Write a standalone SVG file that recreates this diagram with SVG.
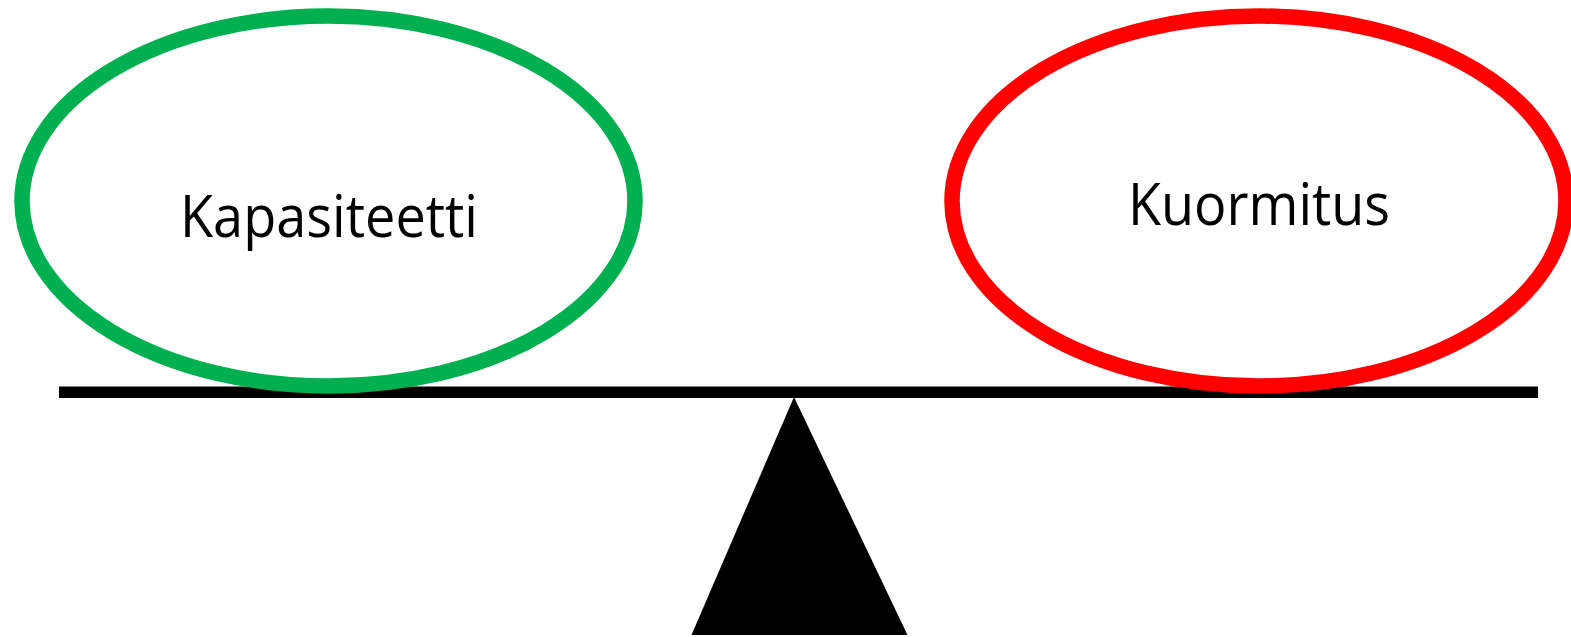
<svg xmlns="http://www.w3.org/2000/svg" width="1571" height="637" viewBox="0 0 1571 637">
<style>
.ell{fill:#fff;stroke-width:15.5}
.lbl{font-family:"Open Sans","Liberation Sans",sans-serif;font-size:58px;fill:#000;text-anchor:middle;font-variant-ligatures:none}
</style>
<rect width="1571" height="637" fill="#fff"/>
<g id="connectors">
<rect id="beam" x="59" y="386.5" width="1479" height="11.5" fill="#000"/>
<polygon id="fulcrum" points="794,397 691.5,635 907.5,635" fill="#000"/>
</g>
<g id="kapasiteetti">
<ellipse class="ell" cx="328.5" cy="201" rx="306.5" ry="185" stroke="#00b050"/>
<text class="lbl" x="329" y="237" textLength="298" lengthAdjust="spacingAndGlyphs">Kapasiteetti</text>
</g>
<g id="kuormitus">
<ellipse class="ell" cx="1259" cy="201" rx="307" ry="185" stroke="#ff0000"/>
<text class="lbl" x="1259" y="225" textLength="262" lengthAdjust="spacingAndGlyphs">Kuormitus</text>
</g>
</svg>
